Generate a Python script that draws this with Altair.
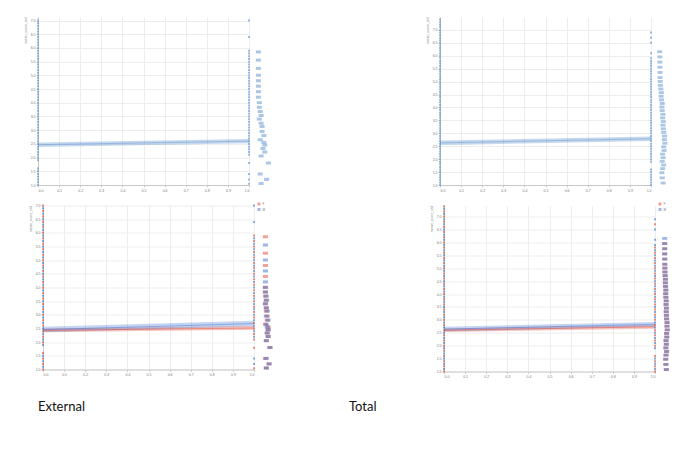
import altair as alt
import pandas as pd

# ---------------- data ----------------
y_ticks = [1.0, 1.5, 2.0, 2.5, 3.0, 3.5, 4.0, 4.5, 5.0, 5.5, 6.0, 6.5, 7.0]
x_ticks = [0.0, 0.1, 0.2, 0.3, 0.4, 0.5, 0.6, 0.7, 0.8, 0.9, 1.0]
groups = ["F", "M"]

# External sample: outcome values observed at x = 0 and x = 1, by group
ext_x0_f = [1.0, 1.2, 1.4, 1.6, 2.0, 2.2, 2.4, 2.6, 2.8, 3.0, 3.2, 3.4, 3.6, 3.8, 4.0, 4.2,
            4.4, 4.6, 4.8, 5.0, 5.2, 5.4, 5.6, 5.8, 6.0, 6.2, 6.4, 6.6, 6.8, 7.0]
ext_x0_m = [1.1, 1.3, 1.5, 1.9, 2.1, 2.3, 2.5, 2.7, 2.9, 3.1, 3.3, 3.5, 3.7, 3.9, 4.1, 4.3,
            4.5, 4.7, 4.9, 5.1, 5.3, 5.5, 5.7, 5.9, 6.1, 6.3, 6.5, 6.7, 6.9]
ext_x1_f = [1.05, 1.8, 2.1, 2.3, 2.5, 2.7, 2.9, 3.1, 3.3, 3.5, 3.7, 3.9, 4.1, 4.3, 4.5, 4.7,
            4.9, 5.1, 5.3, 5.5, 5.7, 5.9]
ext_x1_m = [1.2, 1.4, 2.2, 2.4, 2.6, 2.8, 3.0, 3.2, 3.4, 3.6, 3.8, 4.0, 4.2, 4.4, 4.6, 4.8,
            5.0, 5.2, 5.4, 5.6, 5.8, 6.4, 7.0]

# Total sample
tot_x0_f = [1.0, 1.2, 1.4, 1.6, 1.8, 2.0, 2.2, 2.4, 2.6, 2.8, 3.0, 3.2, 3.4, 3.6, 3.8, 4.0,
            4.2, 4.4, 4.6, 4.8, 5.0, 5.2, 5.4, 5.6, 5.8, 6.0, 6.2, 6.4, 6.6, 6.8, 7.0, 7.2, 7.4]
tot_x0_m = [1.1, 1.3, 1.5, 1.7, 1.9, 2.1, 2.3, 2.5, 2.7, 2.9, 3.1, 3.3, 3.5, 3.7, 3.9, 4.1,
            4.3, 4.5, 4.7, 4.9, 5.1, 5.3, 5.5, 5.7, 5.9, 6.1, 6.3, 6.5, 6.7, 6.9, 7.1, 7.3]
tot_x1_f = [1.0, 1.2, 1.4, 1.6, 2.0, 2.2, 2.4, 2.6, 2.8, 3.0, 3.2, 3.4, 3.6, 3.8, 4.0, 4.2,
            4.4, 4.6, 4.8, 5.0, 5.2, 5.4, 5.6, 5.8, 6.7]
tot_x1_m = [1.1, 1.3, 1.5, 1.9, 2.1, 2.3, 2.5, 2.7, 2.9, 3.1, 3.3, 3.5, 3.7, 3.9, 4.1, 4.3,
            4.5, 4.7, 4.9, 5.1, 5.3, 5.5, 5.7, 5.9, 6.1, 6.5, 6.9]

# Linear fit (value at x=0, value at x=1, half width of confidence band)
ext_fit_all = [2.47, 2.60, 0.08]
ext_fit_f = [2.43, 2.52, 0.07]
ext_fit_m = [2.46, 2.68, 0.10]
tot_fit_all = [2.63, 2.79, 0.09]
tot_fit_f = [2.60, 2.73, 0.07]
tot_fit_m = [2.64, 2.83, 0.09]

# Marginal histograms of the outcome (bin start, counts by group)
bin_width = 0.11
ext_bins = [1.0, 1.15, 1.35, 1.75, 2.0, 2.15, 2.28, 2.4, 2.5, 2.6, 2.75, 2.9, 3.08, 3.2,
            3.35, 3.48, 3.63, 3.78, 3.95, 4.15, 4.35, 4.55, 4.75, 4.95, 5.2, 5.5, 5.8]
ext_n_f = [2, 5, 1, 6, 2, 4, 3, 4, 4, 1, 3, 3, 2, 2, 1, 2, 1, 1, 1, 0, 1, 0, 1, 0, 1, 0, 1]
ext_n_m = [2, 5, 2, 6, 2, 4, 3, 4, 3, 2, 4, 2, 3, 2, 1, 2, 2, 1, 1, 1, 0, 1, 0, 1, 0, 1, 0]

tot_bins = [1.02, 1.22, 1.42, 1.58, 1.72, 1.86, 2.0, 2.14, 2.28, 2.42, 2.56, 2.7, 2.84,
            2.98, 3.12, 3.26, 3.4, 3.54, 3.68, 3.82, 3.96, 4.1, 4.24, 4.38, 4.52, 4.66,
            4.8, 4.95, 5.1, 5.3, 5.5, 5.7, 5.9, 6.1]
tot_n_f = [10, 7, 6, 8, 12, 7, 10, 8, 12, 11, 15, 13, 14, 11, 10, 9, 10, 8, 9, 7, 6, 7,
           5, 4, 5, 3, 2, 2, 1, 2, 1, 1, 1, 0]
tot_n_m = [10, 8, 7, 9, 11, 8, 10, 9, 13, 12, 15, 14, 14, 12, 11, 10, 11, 9, 10, 8, 7, 8,
           6, 5, 5, 4, 3, 2, 2, 1, 1, 1, 1, 1]

# ---------------- styling ----------------
RED = "#e5432d"
BLUE = "#3b6fd0"
TOPBLUE = "#5a8fcc"
FONT = "Liberation Sans"


def points_df(x0f, x0m, x1f, x1m):
    rows = []
    for g, x, vals in (("F", 0.0, x0f), ("M", 0.0, x0m), ("F", 1.0, x1f), ("M", 1.0, x1m)):
        rows += [{"g": g, "x": x, "y": v} for v in vals]
    return pd.DataFrame(rows)


def fit_df(fits):
    rows = []
    for g, (a, b, hw) in fits:
        rows.append({"g": g, "x": 0.0, "fit": a, "lo": a - hw, "hi": a + hw})
        rows.append({"g": g, "x": 1.0, "fit": b, "lo": b - hw, "hi": b + hw})
    return pd.DataFrame(rows)


def hist_df(bins, counts):
    rows = []
    for g, ns in counts:
        for b, n in zip(bins, ns):
            if n > 0:
                rows.append({"g": g, "y0": b, "y1": b + bin_width, "n": n})
    return pd.DataFrame(rows)


def panel(pts, fits, hist, ydom, h, colored, hdom, legend_xy=None,
          title=None, title_dx=0, title_offset=25):
    x_axis = alt.Axis(values=x_ticks, format=".1f", title=None, labelFontSize=3.5,
                      labelColor="#777", tickSize=2, labelPadding=1, grid=True,
                      gridColor="#ededed", domainColor="#c8c8c8", tickColor="#ccc",
                      labelFont=FONT)
    y_axis = alt.Axis(values=y_ticks, format=".1f", title="mean_score_std", labelFontSize=3.5,
                      labelColor="#777", tickSize=2, labelPadding=1, grid=True,
                      gridColor="#ededed", domainColor="#c8c8c8", tickColor="#ccc",
                      titleFontSize=3.5, titleColor="#888", titleFontWeight="normal",
                      titleAnchor="end", titlePadding=3, labelFont=FONT, titleFont=FONT)
    xs = alt.Scale(domain=[0, 1], nice=False)
    ys = alt.Scale(domain=ydom, nice=False, zero=False)
    if colored:
        leg = alt.Legend(orient="none", legendX=legend_xy[0], legendY=legend_xy[1],
                         title=None, symbolType="square", symbolSize=9,
                         symbolStrokeWidth=0, labelFontSize=3, labelOffset=2,
                         rowPadding=1.5, padding=0, labelFont=FONT, labelColor="#777")
        cscale = alt.Scale(domain=groups, range=[RED, BLUE])
        color_main = alt.Color("g:N", scale=cscale, legend=None)
        color_hist = alt.Color("g:N", scale=cscale, legend=leg)
        pt_op, band_op, hist_op = 0.6, 0.3, 0.5
    else:
        color_main = alt.value(TOPBLUE)
        color_hist = alt.value(TOPBLUE)
        pt_op, band_op, hist_op = 0.6, 0.35, 0.5

    band = alt.Chart(fits).mark_area(opacity=band_op).encode(
        x=alt.X("x:Q", scale=xs, axis=x_axis),
        y=alt.Y("lo:Q", scale=ys, axis=y_axis), y2="hi:Q", color=color_main)
    line = alt.Chart(fits).mark_line(strokeWidth=1, opacity=0.45).encode(
        x=alt.X("x:Q", scale=xs, axis=x_axis),
        y=alt.Y("fit:Q", scale=ys, axis=y_axis), color=color_main)
    dots = alt.Chart(pts).mark_square(size=4, opacity=pt_op).encode(
        x=alt.X("x:Q", scale=xs, axis=x_axis),
        y=alt.Y("y:Q", scale=ys, axis=y_axis), color=color_main)
    main = alt.layer(band, line, dots).properties(width=211, height=h)
    if title:
        main = main.properties(title=alt.TitleParams(
            title, orient="bottom", anchor="start", frame="group", dx=title_dx,
            offset=title_offset, fontSize=13, font="Lato", fontWeight="normal",
            color="#111"))

    bars = alt.Chart(hist).mark_bar(opacity=hist_op).encode(
        y=alt.Y("y0:Q", scale=ys, axis=None), y2="y1:Q",
        x=alt.X("n:Q", stack=None, axis=None, scale=alt.Scale(domain=hdom, nice=False)),
        color=color_hist).properties(width=22, height=h)

    return alt.hconcat(main, bars, spacing=1.5).resolve_scale(
        color="independent").resolve_legend(color="independent")


def spacer():
    # an empty 1-pixel view used only to set the left indent of a row
    return alt.Chart(pd.DataFrame({"s": [0]})).mark_point(opacity=0).encode(
        x=alt.X("s:Q", axis=None), y=alt.Y("s:Q", axis=None)).properties(width=1, height=1)


ext_pts = points_df(ext_x0_f, ext_x0_m, ext_x1_f, ext_x1_m)
tot_pts = points_df(tot_x0_f, tot_x0_m, tot_x1_f, tot_x1_m)
ext_pts_all = ext_pts.assign(g="all")
tot_pts_all = tot_pts.assign(g="all")

ext_hist_all = hist_df(ext_bins, [("all", [a + b for a, b in zip(ext_n_f, ext_n_m)])])
tot_hist_all = hist_df(tot_bins, [("all", [a + b for a, b in zip(tot_n_f, tot_n_m)])])
ext_hist_g = hist_df(ext_bins, [("F", ext_n_f), ("M", ext_n_m)])
tot_hist_g = hist_df(tot_bins, [("F", tot_n_f), ("M", tot_n_m)])

tl = panel(ext_pts_all, fit_df([("all", ext_fit_all)]), ext_hist_all, [1, 7.13], 168, False,
           [0, 13.2])
tr = panel(tot_pts_all, fit_df([("all", tot_fit_all)]), tot_hist_all, [1, 7.5], 168, False,
           [0, 66])
bl = panel(ext_pts, fit_df([("F", ext_fit_f), ("M", ext_fit_m)]), ext_hist_g, [1, 7], 164,
           True, [0, 13.2], legend_xy=[-2, -3], title="External", title_dx=-5,
           title_offset=25)
br = panel(tot_pts, fit_df([("F", tot_fit_f), ("M", tot_fit_m)]), tot_hist_g, [1, 7.43], 166,
           True, [0, 66], legend_xy=[-1, -3], title="Total", title_dx=-95, title_offset=23)

top_pair = alt.hconcat(tl, tr, spacing=150)
top = alt.hconcat(spacer(), top_pair, spacing=0)
bottom_pair = alt.hconcat(bl, br, spacing=67).resolve_scale(color="independent").resolve_legend(
    color="independent")
bottom = alt.hconcat(spacer(), bottom_pair, spacing=5).resolve_scale(
    color="independent").resolve_legend(color="independent")

chart = alt.concat(top, bottom, columns=1, align="none", spacing=10.5).resolve_scale(
    color="independent").resolve_legend(color="independent").properties(
    padding={"left": 16, "top": 14, "right": 0, "bottom": 0}
).configure(background="white").configure_view(stroke=None, strokeWidth=0)

chart.save("out.html", embed_options={"renderer": "svg", "actions": False})
